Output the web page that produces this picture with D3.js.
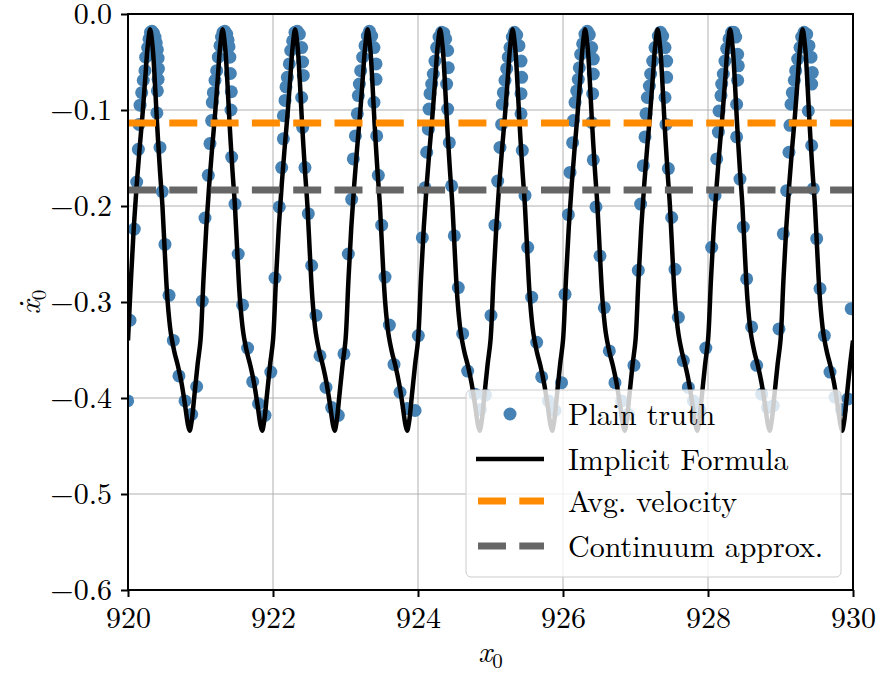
<!DOCTYPE html>
<html>
<head>
<meta charset="utf-8">
<script src="https://cdn.jsdelivr.net/npm/d3@7"></script>
<style>
  body { margin: 0; background: #fff; }
  text { font-family: "Latin Modern Roman", "CMU Serif", "Liberation Serif", serif; fill: #000; }
</style>
</head>
<body>
<script>
// axis ticks
var xTicks = [920, 922, 924, 926, 928, 930];
var yTicks = [0.0, -0.1, -0.2, -0.3, -0.4, -0.5, -0.6];

// horizontal reference velocities
var avgVelocity = -0.1135;
var continuumVelocity = -0.1833;

// implicit formula curve
var lineX = [
  920.000,920.040,920.080,920.120,920.160,920.200,920.240,920.270,920.305,920.340,920.370,920.400,920.440,920.475,920.510,920.545,920.590,920.640,920.690,920.740,920.790,920.825,920.850,920.875,920.915,920.960,
  921.000,921.040,921.080,921.120,921.160,921.200,921.240,921.270,921.305,921.340,921.370,921.400,921.440,921.475,921.510,921.545,921.590,921.640,921.690,921.740,921.790,921.825,921.850,921.875,921.915,921.960,
  922.000,922.040,922.080,922.120,922.160,922.200,922.240,922.270,922.305,922.340,922.370,922.400,922.440,922.475,922.510,922.545,922.590,922.640,922.690,922.740,922.790,922.825,922.850,922.875,922.915,922.960,
  923.000,923.040,923.080,923.120,923.160,923.200,923.240,923.270,923.305,923.340,923.370,923.400,923.440,923.475,923.510,923.545,923.590,923.640,923.690,923.740,923.790,923.825,923.850,923.875,923.915,923.960,
  924.000,924.040,924.080,924.120,924.160,924.200,924.240,924.270,924.305,924.340,924.370,924.400,924.440,924.475,924.510,924.545,924.590,924.640,924.690,924.740,924.790,924.825,924.850,924.875,924.915,924.960,
  925.000,925.040,925.080,925.120,925.160,925.200,925.240,925.270,925.305,925.340,925.370,925.400,925.440,925.475,925.510,925.545,925.590,925.640,925.690,925.740,925.790,925.825,925.850,925.875,925.915,925.960,
  926.000,926.040,926.080,926.120,926.160,926.200,926.240,926.270,926.305,926.340,926.370,926.400,926.440,926.475,926.510,926.545,926.590,926.640,926.690,926.740,926.790,926.825,926.850,926.875,926.915,926.960,
  927.000,927.040,927.080,927.120,927.160,927.200,927.240,927.270,927.305,927.340,927.370,927.400,927.440,927.475,927.510,927.545,927.590,927.640,927.690,927.740,927.790,927.825,927.850,927.875,927.915,927.960,
  928.000,928.040,928.080,928.120,928.160,928.200,928.240,928.270,928.305,928.340,928.370,928.400,928.440,928.475,928.510,928.545,928.590,928.640,928.690,928.740,928.790,928.825,928.850,928.875,928.915,928.960,
  929.000,929.040,929.080,929.120,929.160,929.200,929.240,929.270,929.305,929.340,929.370,929.400,929.440,929.475,929.510,929.545,929.590,929.640,929.690,929.740,929.790,929.825,929.850,929.875,929.915,929.960,
  930.000
];
var lineY = [
  -0.340,-0.278,-0.222,-0.178,-0.140,-0.105,-0.065,-0.035,-0.016,-0.035,-0.070,-0.113,-0.162,-0.200,-0.252,-0.298,-0.332,-0.352,-0.367,-0.385,-0.409,-0.427,-0.434,-0.426,-0.398,-0.365,
  -0.340,-0.278,-0.222,-0.178,-0.140,-0.105,-0.065,-0.035,-0.016,-0.035,-0.070,-0.113,-0.162,-0.200,-0.252,-0.298,-0.332,-0.352,-0.367,-0.385,-0.409,-0.427,-0.434,-0.426,-0.398,-0.365,
  -0.340,-0.278,-0.222,-0.178,-0.140,-0.105,-0.065,-0.035,-0.016,-0.035,-0.070,-0.113,-0.162,-0.200,-0.252,-0.298,-0.332,-0.352,-0.367,-0.385,-0.409,-0.427,-0.434,-0.426,-0.398,-0.365,
  -0.340,-0.278,-0.222,-0.178,-0.140,-0.105,-0.065,-0.035,-0.016,-0.035,-0.070,-0.113,-0.162,-0.200,-0.252,-0.298,-0.332,-0.352,-0.367,-0.385,-0.409,-0.427,-0.434,-0.426,-0.398,-0.365,
  -0.340,-0.278,-0.222,-0.178,-0.140,-0.105,-0.065,-0.035,-0.016,-0.035,-0.070,-0.113,-0.162,-0.200,-0.252,-0.298,-0.332,-0.352,-0.367,-0.385,-0.409,-0.427,-0.434,-0.426,-0.398,-0.365,
  -0.340,-0.278,-0.222,-0.178,-0.140,-0.105,-0.065,-0.035,-0.016,-0.035,-0.070,-0.113,-0.162,-0.200,-0.252,-0.298,-0.332,-0.352,-0.367,-0.385,-0.409,-0.427,-0.434,-0.426,-0.398,-0.365,
  -0.340,-0.278,-0.222,-0.178,-0.140,-0.105,-0.065,-0.035,-0.016,-0.035,-0.070,-0.113,-0.162,-0.200,-0.252,-0.298,-0.332,-0.352,-0.367,-0.385,-0.409,-0.427,-0.434,-0.426,-0.398,-0.365,
  -0.340,-0.278,-0.222,-0.178,-0.140,-0.105,-0.065,-0.035,-0.016,-0.035,-0.070,-0.113,-0.162,-0.200,-0.252,-0.298,-0.332,-0.352,-0.367,-0.385,-0.409,-0.427,-0.434,-0.426,-0.398,-0.365,
  -0.340,-0.278,-0.222,-0.178,-0.140,-0.105,-0.065,-0.035,-0.016,-0.035,-0.070,-0.113,-0.162,-0.200,-0.252,-0.298,-0.332,-0.352,-0.367,-0.385,-0.409,-0.427,-0.434,-0.426,-0.398,-0.365,
  -0.340,-0.278,-0.222,-0.178,-0.140,-0.105,-0.065,-0.035,-0.016,-0.035,-0.070,-0.113,-0.162,-0.200,-0.252,-0.298,-0.332,-0.352,-0.367,-0.385,-0.409,-0.427,-0.434,-0.426,-0.398,-0.365,
  -0.340
];

// plain truth samples, one row per period
var truthX = [
  919.995,920.028,920.087,920.120,920.143,920.152,920.166,920.189,920.211,920.234,920.244,920.271,920.290,920.310,920.330,920.350,920.372,920.390,920.405,920.415,920.420,920.415,920.405,920.398,920.441,920.473,920.510,920.566,920.625,920.703,920.786,920.878,920.947,
  921.025,921.062,921.108,921.131,921.154,921.163,921.177,921.200,921.223,921.246,921.269,921.290,921.310,921.335,921.361,921.380,921.393,921.405,921.412,921.425,921.420,921.430,921.476,921.520,921.580,921.650,921.720,921.800,921.890,921.970,
  922.028,922.087,922.120,922.143,922.143,922.166,922.179,922.198,922.225,922.244,922.271,922.303,922.335,922.363,922.395,922.409,922.418,922.395,922.409,922.441,922.487,922.533,922.593,922.648,922.731,922.809,922.901,922.979,
  923.039,923.085,923.108,923.136,923.163,923.177,923.191,923.209,923.237,923.269,923.301,923.330,923.361,923.393,923.421,923.421,923.393,923.430,923.453,923.499,923.545,923.605,923.669,923.752,923.853,923.960,
  924.005,924.060,924.097,924.120,924.143,924.152,924.166,924.189,924.211,924.234,924.257,924.290,924.326,924.355,924.382,924.409,924.418,924.395,924.409,924.432,924.464,924.501,924.556,924.616,924.685,924.786,924.860,924.930,
  925.007,925.062,925.099,925.131,925.154,925.163,925.177,925.200,925.223,925.246,925.269,925.301,925.330,925.361,925.393,925.421,925.430,925.421,925.421,925.439,925.476,925.513,925.568,925.637,925.706,925.798,925.890,925.980,
  926.028,926.074,926.097,926.133,926.143,926.166,926.189,926.211,926.225,926.244,926.271,926.303,926.335,926.363,926.395,926.418,926.418,926.409,926.395,926.418,926.455,926.510,926.570,926.639,926.717,926.809,926.901,926.979,
  927.039,927.071,927.108,927.131,927.145,927.163,927.191,927.209,927.237,927.269,927.315,927.345,927.375,927.407,927.430,927.430,927.407,927.421,927.453,927.499,927.545,927.591,927.660,927.729,927.798,927.890,927.970,
  928.051,928.097,928.120,928.143,928.152,928.179,928.189,928.211,928.234,928.257,928.290,928.326,928.355,928.382,928.409,928.418,928.409,928.395,928.395,928.441,928.487,928.533,928.602,928.671,928.740,928.820,928.901,928.979,
  929.039,929.085,929.117,929.131,929.145,929.163,929.191,929.209,929.237,929.269,929.292,929.325,929.361,929.393,929.421,929.439,929.430,929.384,929.430,929.453,929.499,929.545,929.605,929.683,929.752,929.840,929.930,929.975
];
var truthY = [
  -0.403,-0.319,-0.224,-0.175,-0.141,-0.115,-0.095,-0.082,-0.069,-0.059,-0.045,-0.035,-0.026,-0.019,-0.018,-0.020,-0.024,-0.030,-0.037,-0.046,-0.057,-0.068,-0.080,-0.103,-0.139,-0.185,-0.240,-0.293,-0.340,-0.377,-0.403,-0.417,-0.388,
  -0.299,-0.2125,-0.168,-0.135,-0.111,-0.092,-0.082,-0.069,-0.059,-0.045,-0.033,-0.024,-0.019,-0.018,-0.021,-0.027,-0.034,-0.045,-0.062,-0.081,-0.100,-0.149,-0.198,-0.250,-0.303,-0.348,-0.383,-0.406,-0.418,-0.373,
  -0.275,-0.201,-0.160,-0.130,-0.106,-0.090,-0.076,-0.066,-0.052,-0.038,-0.028,-0.019,-0.018,-0.021,-0.035,-0.050,-0.064,-0.087,-0.118,-0.160,-0.208,-0.262,-0.314,-0.356,-0.389,-0.410,-0.418,-0.354,
  -0.250,-0.193,-0.151,-0.127,-0.104,-0.085,-0.073,-0.059,-0.045,-0.033,-0.023,-0.018,-0.023,-0.035,-0.052,-0.068,-0.092,-0.127,-0.168,-0.220,-0.274,-0.324,-0.365,-0.394,-0.411,-0.413,
  -0.335,-0.233,-0.181,-0.144,-0.120,-0.099,-0.083,-0.073,-0.0625,-0.049,-0.035,-0.024,-0.019,-0.020,-0.026,-0.038,-0.056,-0.073,-0.099,-0.134,-0.179,-0.231,-0.285,-0.333,-0.372,-0.396,-0.412,-0.397,
  -0.314,-0.220,-0.174,-0.139,-0.115,-0.094,-0.082,-0.069,-0.057,-0.045,-0.035,-0.024,-0.019,-0.022,-0.033,-0.049,-0.066,-0.083,-0.104,-0.142,-0.189,-0.243,-0.295,-0.342,-0.378,-0.403,-0.413,-0.384,
  -0.292,-0.209,-0.165,-0.134,-0.111,-0.092,-0.080,-0.068,-0.056,-0.042,-0.031,-0.021,-0.018,-0.0215,-0.035,-0.047,-0.0625,-0.083,-0.113,-0.152,-0.201,-0.252,-0.306,-0.351,-0.384,-0.403,-0.417,-0.366,
  -0.267,-0.198,-0.158,-0.128,-0.104,-0.087,-0.075,-0.0625,-0.049,-0.035,-0.023,-0.019,-0.023,-0.035,-0.049,-0.066,-0.087,-0.115,-0.161,-0.212,-0.266,-0.316,-0.361,-0.389,-0.403,-0.413,-0.348,
  -0.243,-0.189,-0.151,-0.123,-0.101,-0.085,-0.073,-0.0625,-0.049,-0.036,-0.026,-0.019,-0.019,-0.024,-0.042,-0.054,-0.069,-0.094,-0.128,-0.172,-0.222,-0.276,-0.326,-0.366,-0.396,-0.410,-0.408,-0.328,
  -0.229,-0.184,-0.144,-0.116,-0.094,-0.082,-0.069,-0.059,-0.047,-0.035,-0.024,-0.019,-0.021,-0.033,-0.045,-0.061,-0.073,-0.101,-0.137,-0.182,-0.234,-0.286,-0.335,-0.373,-0.399,-0.412,-0.401,-0.307
];

var legendLabels = ["Plain truth", "Implicit Formula", "Avg. velocity", "Continuum approx."];

var svgWidth = 876;
var svgHeight = 677;
var margin = { top: 14, right: 23, bottom: 87, left: 128 };
var chartWidth = svgWidth - margin.left - margin.right;
var chartHeight = svgHeight - margin.top - margin.bottom;

var svg = d3.select("body").append("svg")
  .attr("width", svgWidth)
  .attr("height", svgHeight);

var chartGroup = svg.append("g")
  .attr("transform", `translate(${margin.left}, ${margin.top})`);

var xScale = d3.scaleLinear().domain([920, 930]).range([0, chartWidth]);
var yScale = d3.scaleLinear().domain([-0.6, 0]).range([chartHeight, 0]);

svg.append("defs").append("clipPath").attr("id", "plotClip")
  .append("rect").attr("width", chartWidth).attr("height", chartHeight);

// grid
chartGroup.selectAll(".vgrid").data(xTicks).enter().append("line")
  .attr("x1", d => xScale(d)).attr("x2", d => xScale(d))
  .attr("y1", 0).attr("y2", chartHeight)
  .attr("stroke", "#b0b0b0").attr("stroke-width", 1);
chartGroup.selectAll(".hgrid").data(yTicks).enter().append("line")
  .attr("x1", 0).attr("x2", chartWidth)
  .attr("y1", d => yScale(d)).attr("y2", d => yScale(d))
  .attr("stroke", "#b0b0b0").attr("stroke-width", 1);

var plot = chartGroup.append("g").attr("clip-path", "url(#plotClip)");

// plain truth dots
var truthData = truthX.map((d, i) => ({ x: d, y: truthY[i] }));
plot.selectAll("circle").data(truthData).enter().append("circle")
  .attr("cx", d => xScale(d.x))
  .attr("cy", d => yScale(d.y))
  .attr("r", 6.5)
  .attr("fill", "steelblue");

// implicit formula
var lineData = lineX.map((d, i) => ({ x: d, y: lineY[i] }));
var lineGen = d3.line()
  .x(d => xScale(d.x))
  .y(d => yScale(d.y))
  .curve(d3.curveCatmullRom.alpha(0.5));
plot.append("path").datum(lineData)
  .attr("d", lineGen)
  .attr("fill", "none")
  .attr("stroke", "#000")
  .attr("stroke-width", 4.5)
  .attr("stroke-linejoin", "round");

// reference velocities
plot.append("line")
  .attr("x1", 0).attr("x2", chartWidth)
  .attr("y1", yScale(avgVelocity)).attr("y2", yScale(avgVelocity))
  .attr("stroke", "darkorange").attr("stroke-width", 7)
  .attr("stroke-dasharray", "28,13.3");
plot.append("line")
  .attr("x1", 0).attr("x2", chartWidth)
  .attr("y1", yScale(continuumVelocity)).attr("y2", yScale(continuumVelocity))
  .attr("stroke", "#666666").attr("stroke-width", 7)
  .attr("stroke-dasharray", "28,13.3");

// axes
var bottomAxis = d3.axisBottom(xScale).tickValues(xTicks).tickSize(7).tickPadding(10)
  .tickFormat(d3.format("d"));
var leftAxis = d3.axisLeft(yScale).tickValues(yTicks).tickSize(7).tickPadding(9)
  .tickFormat(d3.format(".1f"));

var xAxis = chartGroup.append("g")
  .attr("transform", `translate(0, ${chartHeight})`)
  .call(bottomAxis);
var yAxis = chartGroup.append("g").call(leftAxis);

[xAxis, yAxis].forEach(function(ax) {
  ax.select(".domain").remove();
  ax.selectAll(".tick line").attr("stroke", "#000").attr("stroke-width", 2);
  ax.selectAll(".tick text")
    .style("font-family", '"Latin Modern Roman", "CMU Serif", "Liberation Serif", serif')
    .style("font-size", "30px")
    .attr("fill", "#000");
});

// frame
chartGroup.append("rect")
  .attr("width", chartWidth).attr("height", chartHeight)
  .attr("fill", "none").attr("stroke", "#000").attr("stroke-width", 2);

// axis labels
var xLabel = svg.append("text")
  .attr("x", margin.left + chartWidth / 2)
  .attr("y", 662)
  .attr("text-anchor", "middle")
  .style("font-size", "30px");
xLabel.append("tspan").style("font-style", "italic").text("x");
xLabel.append("tspan").attr("dy", 6).style("font-size", "21px").text("0");

var yLabel = svg.append("text")
  .attr("transform", `translate(40, ${margin.top + chartHeight / 2}) rotate(-90)`)
  .attr("text-anchor", "middle")
  .style("font-size", "30px");
yLabel.append("tspan").style("font-style", "italic").text("\u1E8B");
yLabel.append("tspan").attr("dy", 6).style("font-size", "21px").text("0");

// legend
var legend = svg.append("g").attr("transform", "translate(466, 390)");
legend.append("rect")
  .attr("width", 375).attr("height", 187)
  .attr("rx", 5).attr("ry", 5)
  .attr("fill", "#fff").attr("fill-opacity", 0.8)
  .attr("stroke", "#cccccc").attr("stroke-width", 1);

var rowY = [24, 69, 111, 156];
legend.append("circle").attr("cx", 44).attr("cy", rowY[0]).attr("r", 6.5).attr("fill", "steelblue");
legend.append("line").attr("x1", 10).attr("x2", 78).attr("y1", rowY[1]).attr("y2", rowY[1])
  .attr("stroke", "#000").attr("stroke-width", 4.5);
legend.append("line").attr("x1", 12).attr("x2", 78).attr("y1", rowY[2]).attr("y2", rowY[2])
  .attr("stroke", "darkorange").attr("stroke-width", 7).attr("stroke-dasharray", "28,13.3");
legend.append("line").attr("x1", 12).attr("x2", 78).attr("y1", rowY[3]).attr("y2", rowY[3])
  .attr("stroke", "#666666").attr("stroke-width", 7).attr("stroke-dasharray", "28,13.3");

legend.selectAll(".label").data(legendLabels).enter().append("text")
  .attr("x", 102)
  .attr("y", (d, i) => rowY[i] + 11)
  .style("font-size", "30px")
  .text(d => d);
</script>
</body>
</html>
